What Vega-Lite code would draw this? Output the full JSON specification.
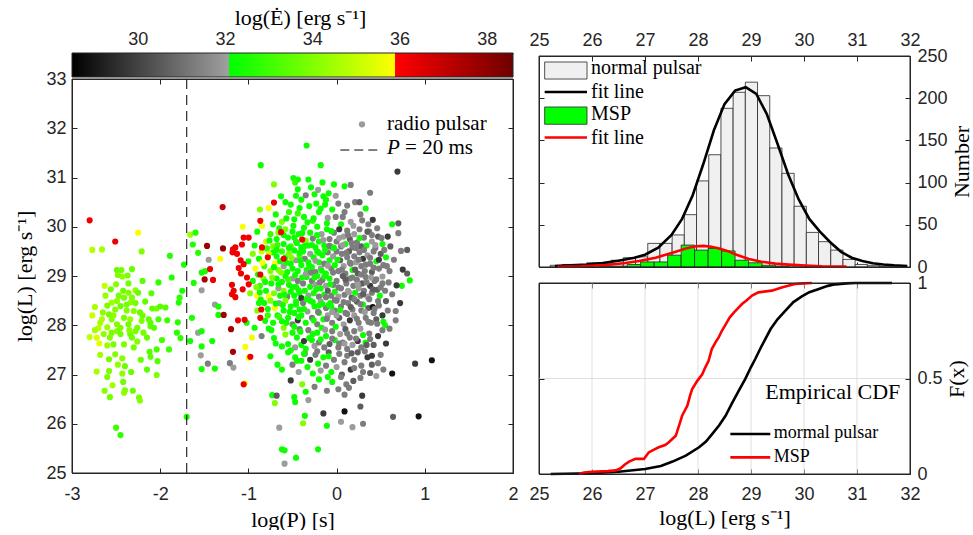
{
"$schema": "https://vega.github.io/schema/vega-lite/v6.json",
"background": "white",
"padding": {"left": 13, "top": 6, "right": 0, "bottom": 0},
"bounds": "flush",
"spacing": 26,
"config": {
 "view": {"stroke": null},
 "axis": {"labelFont": "Liberation Sans", "labelFontSize": 18, "labelColor": "#262626", "titleFont": "Liberation Serif", "titleFontSize": 22, "titleFontWeight": "normal", "titleColor": "#000000", "domainColor": "#262626", "tickColor": "#262626", "domainWidth": 1, "tickWidth": 1, "grid": false, "labelOverlap": false, "labelFlush": false, "labelBound": false}
},
"datasets": {
 "pts": [
{"p":-2.80,"l":30.13,"e":36.2},{"p":-2.25,"l":29.88,"e":35.8},{"p":-2.51,"l":29.70,"e":36.2},{"p":-2.77,"l":29.53,"e":34.8},{"p":-2.66,"l":29.54,"e":34.6},{"p":-2.21,"l":29.50,"e":34.0},{"p":-1.89,"l":29.41,"e":32.6},{"p":-1.73,"l":29.23,"e":32.5},{"p":-2.49,"l":29.12,"e":33.5},{"p":-2.44,"l":29.12,"e":33.8},{"p":-2.32,"l":29.14,"e":33.6},{"p":-2.43,"l":28.99,"e":34.2},{"p":-2.37,"l":29.01,"e":33.9},{"p":-2.48,"l":29.02,"e":34.0},{"p":-2.63,"l":28.80,"e":35.0},{"p":-2.56,"l":28.73,"e":33.8},{"p":-2.50,"l":28.83,"e":34.1},{"p":-2.42,"l":28.70,"e":33.7},{"p":-2.36,"l":28.66,"e":34.0},{"p":-2.28,"l":28.71,"e":34.3},{"p":-2.25,"l":28.66,"e":33.6},{"p":-2.32,"l":28.56,"e":34.0},{"p":-2.41,"l":28.56,"e":33.9},{"p":-2.49,"l":28.49,"e":34.2},{"p":-2.55,"l":28.46,"e":34.5},{"p":-2.60,"l":28.40,"e":33.9},{"p":-2.74,"l":28.37,"e":34.6},{"p":-2.65,"l":28.26,"e":34.2},{"p":-2.58,"l":28.22,"e":33.8},{"p":-2.51,"l":28.32,"e":34.0},{"p":-2.45,"l":28.39,"e":33.7},{"p":-2.38,"l":28.42,"e":33.8},{"p":-2.30,"l":28.29,"e":34.1},{"p":-2.23,"l":28.26,"e":33.7},{"p":-2.17,"l":28.48,"e":33.5},{"p":-2.09,"l":28.34,"e":33.6},{"p":-2.04,"l":28.34,"e":33.9},{"p":-1.94,"l":28.36,"e":33.4},{"p":-2.13,"l":28.12,"e":33.6},{"p":-2.21,"l":28.09,"e":34.0},{"p":-2.34,"l":28.12,"e":34.3},{"p":-2.41,"l":28.15,"e":33.9},{"p":-2.55,"l":28.12,"e":34.1},{"p":-2.66,"l":28.12,"e":34.7},{"p":-2.70,"l":27.94,"e":34.9},{"p":-2.60,"l":27.96,"e":34.4},{"p":-2.49,"l":28.02,"e":34.0},{"p":-2.36,"l":28.02,"e":33.8},{"p":-2.26,"l":27.95,"e":33.9},{"p":-2.11,"l":27.98,"e":33.5},{"p":-2.02,"l":28.12,"e":33.2},{"p":-1.79,"l":28.46,"e":32.6},{"p":-1.78,"l":28.56,"e":32.8},{"p":-1.80,"l":28.06,"e":32.7},{"p":-2.02,"l":28.87,"e":32.8},{"p":-1.87,"l":28.97,"e":32.6},{"p":-1.75,"l":28.70,"e":32.5},{"p":-2.33,"l":28.47,"e":34.1},{"p":-2.00,"l":28.38,"e":33.4},
{"p":-2.74,"l":27.90,"e":34.5},{"p":-2.80,"l":27.76,"e":35.0},{"p":-2.72,"l":27.75,"e":35.3},{"p":-2.64,"l":27.82,"e":34.2},{"p":-2.55,"l":27.85,"e":33.9},{"p":-2.49,"l":27.88,"e":34.1},{"p":-2.45,"l":27.82,"e":33.8},{"p":-2.41,"l":27.61,"e":34.0},{"p":-2.34,"l":27.82,"e":33.7},{"p":-2.28,"l":27.88,"e":33.9},{"p":-2.19,"l":27.85,"e":33.8},{"p":-2.11,"l":28.05,"e":33.5},{"p":-2.07,"l":27.95,"e":33.4},{"p":-2.26,"l":27.67,"e":34.0},{"p":-2.32,"l":27.75,"e":33.8},{"p":-2.53,"l":27.61,"e":33.9},{"p":-2.60,"l":27.59,"e":34.4},{"p":-2.69,"l":27.63,"e":35.5},{"p":-2.51,"l":27.41,"e":34.0},{"p":-2.58,"l":27.31,"e":33.8},{"p":-2.43,"l":27.33,"e":34.1},{"p":-2.40,"l":27.17,"e":33.7},{"p":-2.43,"l":27.02,"e":34.2},{"p":-2.33,"l":27.05,"e":33.6},{"p":-2.12,"l":27.46,"e":33.3},{"p":-2.11,"l":27.36,"e":33.5},{"p":-2.04,"l":27.51,"e":33.2},{"p":-2.03,"l":27.27,"e":33.4},{"p":-2.04,"l":26.99,"e":34.0},{"p":-1.90,"l":27.51,"e":33.0},{"p":-1.81,"l":27.85,"e":32.7},{"p":-1.77,"l":27.74,"e":32.8},{"p":-2.72,"l":27.06,"e":34.6},{"p":-2.58,"l":27.07,"e":33.9},{"p":-2.54,"l":26.78,"e":34.5},{"p":-2.63,"l":26.67,"e":34.1},{"p":-2.57,"l":26.54,"e":33.8},{"p":-2.40,"l":26.68,"e":33.9},{"p":-2.41,"l":26.63,"e":34.2},{"p":-2.31,"l":26.67,"e":33.7},{"p":-2.24,"l":26.53,"e":33.9},{"p":-2.23,"l":26.47,"e":34.1},{"p":-2.50,"l":25.92,"e":33.0},{"p":-2.45,"l":25.77,"e":32.8},{"p":-1.70,"l":26.14,"e":32.5},
{"p":-2.62,"l":28.60,"e":34.3},{"p":-2.47,"l":28.60,"e":33.9},{"p":-2.38,"l":28.30,"e":34.0},{"p":-2.28,"l":28.45,"e":33.8},{"p":-2.53,"l":28.20,"e":34.2},{"p":-2.45,"l":27.95,"e":33.9},{"p":-2.35,"l":27.90,"e":34.1},{"p":-2.20,"l":28.20,"e":33.7},{"p":-2.15,"l":27.75,"e":33.6},{"p":-2.68,"l":28.05,"e":34.6},{"p":-2.57,"l":27.75,"e":34.0},{"p":-2.30,"l":27.55,"e":33.9},{"p":-2.22,"l":27.30,"e":33.6},{"p":-2.48,"l":27.20,"e":34.3},{"p":-2.68,"l":27.40,"e":34.5},{"p":-2.77,"l":28.20,"e":35.1},{"p":-2.36,"l":28.85,"e":33.8},{"p":-2.20,"l":28.90,"e":33.5},{"p":-2.10,"l":28.65,"e":33.4},{"p":-1.98,"l":27.70,"e":33.1},{"p":-1.92,"l":28.10,"e":33.0},{"p":-2.15,"l":27.10,"e":33.5},{"p":-2.60,"l":26.95,"e":34.0},{"p":-2.42,"l":26.85,"e":33.8},
{"p":-1.66,"l":29.84,"e":34.5},{"p":-1.60,"l":29.88,"e":32.6},{"p":-1.63,"l":29.64,"e":32.5},{"p":-1.57,"l":29.47,"e":32.6},{"p":-1.53,"l":29.07,"e":32.4},{"p":-1.49,"l":29.10,"e":32.5},{"p":-1.62,"l":28.86,"e":32.5},{"p":-1.53,"l":28.71,"e":32.0},{"p":-1.38,"l":28.42,"e":32.0},{"p":-1.34,"l":28.38,"e":32.4},{"p":-1.64,"l":28.15,"e":32.5},{"p":-1.45,"l":29.33,"e":32.0},{"p":-1.66,"l":27.68,"e":32.4},{"p":-1.53,"l":27.57,"e":32.5},{"p":-1.41,"l":27.68,"e":32.4},{"p":-1.53,"l":27.11,"e":32.4},{"p":-1.38,"l":27.12,"e":32.4},{"p":-1.57,"l":27.85,"e":32.0},{"p":-1.54,"l":27.39,"e":32.0},{"p":-1.46,"l":27.22,"e":31.3},{"p":-1.21,"l":27.23,"e":31.3},{"p":-1.17,"l":27.14,"e":32.0},{"p":-1.34,"l":28.21,"e":32.4},{"p":-1.53,"l":27.88,"e":32.4},{"p":-1.02,"l":28.05,"e":32.3},{"p":-0.93,"l":27.95,"e":32.3},{"p":-0.88,"l":28.45,"e":32.3},
{"p":-0.34,"l":31.65,"e":32.3},{"p":-0.86,"l":31.25,"e":32.3},{"p":-0.18,"l":31.25,"e":32.3},{"p":0.69,"l":31.12,"e":29.8},{"p":-0.71,"l":30.86,"e":34.0},{"p":-0.49,"l":30.99,"e":32.3},{"p":-0.44,"l":30.96,"e":32.3},{"p":-0.47,"l":30.90,"e":32.9},{"p":-0.32,"l":30.96,"e":32.3},{"p":-0.44,"l":30.76,"e":32.3},{"p":-0.21,"l":30.75,"e":32.0},{"p":-0.03,"l":30.86,"e":32.3},{"p":0.09,"l":30.82,"e":32.3},{"p":0.16,"l":30.85,"e":31.3},{"p":0.38,"l":30.69,"e":31.3},{"p":-0.15,"l":30.62,"e":32.3},{"p":-0.09,"l":30.68,"e":32.3},{"p":-0.63,"l":30.62,"e":32.3},{"p":-0.46,"l":30.63,"e":32.3},{"p":-0.35,"l":30.64,"e":31.3},{"p":-0.25,"l":30.66,"e":32.3},{"p":-0.01,"l":30.63,"e":32.0},{"p":0.02,"l":30.47,"e":31.3},{"p":0.12,"l":30.43,"e":31.3},{"p":0.21,"l":30.50,"e":31.3},{"p":0.26,"l":30.50,"e":30.6},{"p":0.33,"l":30.37,"e":32.3},
{"p":-0.87,"l":30.35,"e":34.0},{"p":-0.77,"l":30.38,"e":35.8},{"p":-0.69,"l":30.25,"e":32.3},{"p":-0.62,"l":30.10,"e":34.0},{"p":-0.54,"l":30.30,"e":32.9},{"p":-0.48,"l":30.15,"e":32.3},{"p":-0.42,"l":30.38,"e":32.3},{"p":-0.37,"l":30.20,"e":32.3},{"p":-0.31,"l":30.42,"e":32.3},{"p":-0.27,"l":30.12,"e":32.9},{"p":-0.20,"l":30.30,"e":32.3},{"p":-0.13,"l":30.45,"e":32.3},{"p":-0.10,"l":30.18,"e":32.0},{"p":-0.05,"l":30.35,"e":32.3},{"p":0.07,"l":30.20,"e":31.3},{"p":0.16,"l":30.10,"e":32.0},{"p":0.41,"l":30.14,"e":29.8},{"p":0.36,"l":30.05,"e":31.3},{"p":0.63,"l":30.05,"e":32.3},{"p":0.70,"l":30.07,"e":30.6},{"p":0.27,"l":30.25,"e":31.3},{"p":0.05,"l":30.05,"e":32.3},
{"p":-0.90,"l":29.90,"e":32.3},{"p":-0.80,"l":29.70,"e":35.0},{"p":-0.75,"l":29.85,"e":32.9},{"p":-0.72,"l":29.60,"e":34.0},{"p":-0.68,"l":29.75,"e":32.3},{"p":-0.60,"l":29.65,"e":32.3},{"p":-0.58,"l":29.95,"e":34.0},{"p":-0.55,"l":29.78,"e":32.3},{"p":-0.52,"l":29.60,"e":32.9},{"p":-0.50,"l":29.90,"e":32.3},{"p":-0.46,"l":29.70,"e":32.0},{"p":-0.43,"l":29.85,"e":32.3},{"p":-0.40,"l":29.58,"e":32.3},{"p":-0.37,"l":29.98,"e":32.3},{"p":-0.35,"l":29.72,"e":34.0},{"p":-0.32,"l":29.62,"e":32.3},{"p":-0.30,"l":29.88,"e":32.3},{"p":-0.27,"l":29.76,"e":31.3},{"p":-0.24,"l":29.58,"e":32.3},{"p":-0.22,"l":30.00,"e":32.3},{"p":-0.20,"l":29.70,"e":32.3},{"p":-0.17,"l":29.85,"e":32.0},{"p":-0.14,"l":29.62,"e":32.3},{"p":-0.11,"l":29.95,"e":32.3},{"p":-0.08,"l":29.75,"e":31.3},{"p":-0.05,"l":29.58,"e":32.3},{"p":-0.03,"l":29.88,"e":31.3},
{"p":0.00,"l":29.70,"e":31.3},{"p":0.03,"l":29.95,"e":29.8},{"p":0.05,"l":29.60,"e":31.3},{"p":0.08,"l":29.80,"e":32.0},{"p":0.10,"l":29.65,"e":32.3},{"p":0.12,"l":29.92,"e":31.3},{"p":0.15,"l":29.75,"e":30.6},{"p":0.18,"l":29.58,"e":31.3},{"p":0.20,"l":29.85,"e":32.0},{"p":0.23,"l":29.68,"e":31.3},{"p":0.26,"l":29.95,"e":31.3},{"p":0.28,"l":29.60,"e":30.6},{"p":0.31,"l":29.78,"e":31.3},{"p":0.34,"l":29.62,"e":32.3},{"p":0.37,"l":29.90,"e":31.3},{"p":0.40,"l":29.70,"e":32.0},{"p":0.44,"l":29.57,"e":31.3},{"p":0.47,"l":29.80,"e":30.6},{"p":0.52,"l":29.65,"e":32.3},{"p":0.58,"l":29.80,"e":29.8},{"p":0.73,"l":29.51,"e":31.3},{"p":0.80,"l":29.53,"e":30.6},
{"p":-1.00,"l":29.30,"e":32.3},{"p":-0.95,"l":29.45,"e":34.0},{"p":-0.92,"l":29.15,"e":35.8},{"p":-0.88,"l":29.35,"e":32.3},{"p":-0.85,"l":29.50,"e":35.0},{"p":-0.82,"l":29.20,"e":32.9},{"p":-0.75,"l":29.10,"e":34.0},{"p":-0.72,"l":29.48,"e":32.3},{"p":-0.70,"l":29.25,"e":35.8},{"p":-0.68,"l":29.40,"e":32.3},{"p":-0.66,"l":29.12,"e":34.0},{"p":-0.64,"l":29.30,"e":32.3},{"p":-0.62,"l":29.50,"e":32.9},{"p":-0.60,"l":29.20,"e":32.0},{"p":-0.58,"l":29.38,"e":32.3},{"p":-0.56,"l":29.08,"e":32.3},{"p":-0.54,"l":29.45,"e":34.0},{"p":-0.52,"l":29.25,"e":32.3},{"p":-0.50,"l":29.15,"e":32.3},{"p":-0.48,"l":29.52,"e":32.3},{"p":-0.46,"l":29.32,"e":32.0},{"p":-0.44,"l":29.10,"e":32.3},{"p":-0.42,"l":29.42,"e":32.9},{"p":-0.40,"l":29.22,"e":32.3},
{"p":-0.38,"l":29.50,"e":32.3},{"p":-0.36,"l":29.35,"e":31.3},{"p":-0.34,"l":29.12,"e":32.3},{"p":-0.32,"l":29.28,"e":32.3},{"p":-0.30,"l":29.45,"e":32.0},{"p":-0.28,"l":29.18,"e":32.3},{"p":-0.26,"l":29.38,"e":32.3},{"p":-0.24,"l":29.08,"e":31.3},{"p":-0.22,"l":29.50,"e":32.3},{"p":-0.20,"l":29.28,"e":32.3},{"p":-0.18,"l":29.15,"e":32.0},{"p":-0.16,"l":29.42,"e":32.3},{"p":-0.14,"l":29.25,"e":31.3},{"p":-0.12,"l":29.05,"e":32.3},{"p":-0.10,"l":29.48,"e":31.3},{"p":-0.08,"l":29.32,"e":32.3},{"p":-0.06,"l":29.15,"e":31.3},{"p":-0.04,"l":29.40,"e":32.0},{"p":-0.02,"l":29.22,"e":32.3},
{"p":0.00,"l":29.50,"e":31.3},{"p":0.02,"l":29.10,"e":31.3},{"p":0.04,"l":29.32,"e":30.6},{"p":0.06,"l":29.45,"e":31.3},{"p":0.08,"l":29.20,"e":32.0},{"p":0.10,"l":29.05,"e":31.3},{"p":0.12,"l":29.38,"e":31.3},{"p":0.14,"l":29.50,"e":30.6},{"p":0.16,"l":29.25,"e":31.3},{"p":0.18,"l":29.12,"e":32.3},{"p":0.20,"l":29.40,"e":31.3},{"p":0.22,"l":29.28,"e":32.0},{"p":0.24,"l":29.05,"e":30.6},{"p":0.26,"l":29.48,"e":31.3},{"p":0.28,"l":29.20,"e":31.3},{"p":0.30,"l":29.35,"e":29.8},{"p":0.32,"l":29.10,"e":31.3},{"p":0.35,"l":29.42,"e":32.0},{"p":0.38,"l":29.25,"e":31.3},{"p":0.40,"l":29.08,"e":30.6},{"p":0.42,"l":29.50,"e":31.3},{"p":0.45,"l":29.30,"e":32.3},{"p":0.48,"l":29.15,"e":31.3},{"p":0.50,"l":29.45,"e":30.6},{"p":0.53,"l":29.22,"e":31.3},{"p":0.56,"l":29.38,"e":32.3},{"p":0.60,"l":29.10,"e":31.3},{"p":0.75,"l":29.13,"e":29.8},{"p":0.80,"l":29.05,"e":30.6},
{"p":-0.98,"l":28.65,"e":34.0},{"p":-0.95,"l":28.90,"e":32.3},{"p":-0.90,"l":28.60,"e":35.8},{"p":-0.87,"l":28.80,"e":32.9},{"p":-0.83,"l":28.95,"e":34.0},{"p":-0.80,"l":28.70,"e":32.3},{"p":-0.77,"l":28.58,"e":35.8},{"p":-0.74,"l":28.85,"e":32.3},{"p":-0.71,"l":28.65,"e":34.0},{"p":-0.68,"l":28.95,"e":32.3},{"p":-0.66,"l":28.75,"e":32.0},{"p":-0.64,"l":28.60,"e":32.3},{"p":-0.62,"l":28.88,"e":32.3},{"p":-0.60,"l":28.70,"e":34.0},{"p":-0.58,"l":29.00,"e":32.3},{"p":-0.56,"l":28.58,"e":31.3},{"p":-0.54,"l":28.82,"e":32.3},{"p":-0.52,"l":28.68,"e":32.3},{"p":-0.50,"l":28.95,"e":32.0},{"p":-0.48,"l":28.60,"e":32.3},{"p":-0.46,"l":28.78,"e":32.3},{"p":-0.44,"l":28.90,"e":31.3},{"p":-0.42,"l":28.65,"e":32.3},{"p":-0.40,"l":28.55,"e":29.8},
{"p":-0.38,"l":28.85,"e":31.3},{"p":-0.36,"l":28.70,"e":32.3},{"p":-0.34,"l":28.98,"e":32.3},{"p":-0.32,"l":28.60,"e":32.0},{"p":-0.30,"l":28.78,"e":32.3},{"p":-0.28,"l":28.90,"e":31.3},{"p":-0.26,"l":28.65,"e":32.3},{"p":-0.24,"l":28.82,"e":32.0},{"p":-0.22,"l":29.00,"e":32.3},{"p":-0.20,"l":28.58,"e":31.3},{"p":-0.18,"l":28.75,"e":32.3},{"p":-0.16,"l":28.92,"e":31.3},{"p":-0.14,"l":28.62,"e":32.3},{"p":-0.12,"l":28.80,"e":32.0},{"p":-0.10,"l":28.70,"e":30.6},{"p":-0.08,"l":28.95,"e":32.3},{"p":-0.06,"l":28.60,"e":31.3},{"p":-0.04,"l":28.82,"e":31.3},{"p":-0.02,"l":28.68,"e":32.3},
{"p":0.00,"l":28.90,"e":31.3},{"p":0.02,"l":28.58,"e":32.0},{"p":0.05,"l":28.75,"e":31.3},{"p":0.07,"l":29.00,"e":30.6},{"p":0.09,"l":28.62,"e":31.3},{"p":0.11,"l":28.85,"e":31.3},{"p":0.13,"l":28.70,"e":32.0},{"p":0.15,"l":28.95,"e":31.3},{"p":0.17,"l":28.56,"e":30.6},{"p":0.19,"l":28.80,"e":31.3},{"p":0.21,"l":28.66,"e":32.3},{"p":0.23,"l":28.92,"e":31.3},{"p":0.25,"l":28.75,"e":32.0},{"p":0.27,"l":28.60,"e":31.3},{"p":0.29,"l":28.85,"e":30.6},{"p":0.31,"l":28.70,"e":31.3},{"p":0.33,"l":28.98,"e":31.3},{"p":0.35,"l":28.58,"e":32.0},{"p":0.38,"l":28.80,"e":29.8},{"p":0.40,"l":28.66,"e":31.3},{"p":0.43,"l":28.90,"e":31.3},{"p":0.46,"l":28.72,"e":30.6},{"p":0.49,"l":28.60,"e":32.3},{"p":0.52,"l":28.85,"e":31.3},{"p":0.55,"l":28.70,"e":31.3},{"p":0.74,"l":28.80,"e":32.3},{"p":0.68,"l":28.81,"e":29.8},{"p":0.83,"l":28.91,"e":32.3},
{"p":-0.90,"l":28.30,"e":34.0},{"p":-0.82,"l":28.45,"e":32.3},{"p":-0.78,"l":28.20,"e":32.9},{"p":-0.75,"l":28.50,"e":34.0},{"p":-0.72,"l":28.05,"e":32.3},{"p":-0.70,"l":28.35,"e":35.8},{"p":-0.67,"l":28.20,"e":32.3},{"p":-0.65,"l":28.45,"e":32.0},{"p":-0.62,"l":28.08,"e":32.3},{"p":-0.60,"l":28.30,"e":32.3},{"p":-0.58,"l":28.50,"e":34.0},{"p":-0.55,"l":28.15,"e":32.3},{"p":-0.52,"l":28.38,"e":32.3},{"p":-0.50,"l":28.02,"e":31.3},{"p":-0.48,"l":28.25,"e":32.3},{"p":-0.46,"l":28.48,"e":32.3},{"p":-0.44,"l":28.10,"e":29.8},{"p":-0.42,"l":28.32,"e":32.3},{"p":-0.40,"l":28.20,"e":32.3},{"p":-0.38,"l":28.45,"e":31.3},{"p":-0.35,"l":28.05,"e":32.3},{"p":-0.33,"l":28.28,"e":32.0},{"p":-0.30,"l":28.50,"e":32.3},{"p":-0.28,"l":28.15,"e":31.3},{"p":-0.25,"l":28.38,"e":32.3},{"p":-0.22,"l":28.02,"e":31.3},{"p":-0.20,"l":28.25,"e":32.3},{"p":-0.18,"l":28.48,"e":32.0},{"p":-0.15,"l":28.12,"e":32.3},{"p":-0.12,"l":28.35,"e":31.3},{"p":-0.10,"l":28.20,"e":32.0},{"p":-0.07,"l":28.45,"e":32.3},{"p":-0.05,"l":28.05,"e":31.3},{"p":-0.02,"l":28.30,"e":31.3},
{"p":0.00,"l":28.50,"e":31.3},{"p":0.03,"l":28.15,"e":30.6},{"p":0.05,"l":28.38,"e":31.3},{"p":0.08,"l":28.02,"e":32.0},{"p":0.10,"l":28.25,"e":31.3},{"p":0.13,"l":28.45,"e":31.3},{"p":0.15,"l":28.10,"e":29.8},{"p":0.18,"l":28.32,"e":31.3},{"p":0.20,"l":28.20,"e":32.0},{"p":0.23,"l":28.48,"e":30.6},{"p":0.25,"l":28.05,"e":31.3},{"p":0.28,"l":28.30,"e":31.3},{"p":0.30,"l":28.42,"e":32.3},{"p":0.33,"l":28.15,"e":31.3},{"p":0.36,"l":28.35,"e":30.6},{"p":0.39,"l":28.05,"e":31.3},{"p":0.41,"l":28.37,"e":28.9},{"p":0.42,"l":28.25,"e":31.3},{"p":0.45,"l":28.12,"e":30.6},{"p":0.48,"l":28.40,"e":31.3},{"p":0.52,"l":28.20,"e":29.8},{"p":0.53,"l":28.07,"e":32.3},{"p":0.58,"l":28.30,"e":31.3},{"p":0.67,"l":28.10,"e":31.3},{"p":0.67,"l":28.29,"e":31.3},
{"p":-0.85,"l":27.78,"e":31.3},{"p":-0.74,"l":27.90,"e":32.3},{"p":-0.71,"l":27.74,"e":32.3},{"p":-0.60,"l":27.95,"e":34.0},{"p":-0.55,"l":27.62,"e":32.3},{"p":-0.50,"l":27.85,"e":32.3},{"p":-0.47,"l":27.55,"e":32.0},{"p":-0.45,"l":27.75,"e":32.3},{"p":-0.42,"l":27.92,"e":31.3},{"p":-0.40,"l":27.60,"e":32.3},{"p":-0.37,"l":27.68,"e":29.8},{"p":-0.35,"l":27.52,"e":32.3},{"p":-0.32,"l":27.90,"e":31.3},{"p":-0.28,"l":27.70,"e":32.3},{"p":-0.25,"l":27.58,"e":32.0},{"p":-0.22,"l":27.85,"e":32.3},{"p":-0.20,"l":27.65,"e":31.3},{"p":-0.17,"l":27.95,"e":32.3},{"p":-0.14,"l":27.55,"e":31.3},{"p":-0.12,"l":27.78,"e":32.3},{"p":-0.08,"l":27.62,"e":30.6},{"p":-0.05,"l":27.88,"e":31.3},{"p":-0.02,"l":27.70,"e":32.3},{"p":0.02,"l":27.55,"e":31.3},{"p":0.04,"l":27.82,"e":32.0},{"p":0.07,"l":27.65,"e":31.3},{"p":0.10,"l":27.92,"e":30.6},{"p":0.12,"l":27.52,"e":31.3},{"p":0.15,"l":27.75,"e":31.3},{"p":0.18,"l":27.60,"e":32.0},{"p":0.20,"l":27.88,"e":31.3},{"p":0.24,"l":27.68,"e":29.8},{"p":0.28,"l":27.55,"e":31.3},{"p":0.30,"l":27.80,"e":32.3},{"p":0.33,"l":27.65,"e":32.3},{"p":0.34,"l":27.60,"e":30.6},{"p":0.38,"l":27.72,"e":31.3},{"p":0.40,"l":27.38,"e":29.8},{"p":0.47,"l":27.78,"e":29.8},{"p":0.52,"l":27.90,"e":31.3},{"p":0.55,"l":28.00,"e":32.3},
{"p":-0.75,"l":27.37,"e":32.3},{"p":-0.67,"l":27.20,"e":32.3},{"p":-0.62,"l":27.10,"e":32.3},{"p":-0.55,"l":27.45,"e":32.3},{"p":-0.50,"l":27.20,"e":31.3},{"p":-0.47,"l":27.35,"e":32.3},{"p":-0.43,"l":27.05,"e":32.0},{"p":-0.40,"l":27.28,"e":32.3},{"p":-0.36,"l":27.42,"e":31.3},{"p":-0.33,"l":27.15,"e":32.3},{"p":-0.30,"l":27.30,"e":29.8},{"p":-0.27,"l":27.02,"e":32.3},{"p":-0.24,"l":27.40,"e":31.3},{"p":-0.21,"l":27.22,"e":32.3},{"p":-0.18,"l":27.08,"e":32.0},{"p":-0.15,"l":27.35,"e":32.3},{"p":-0.12,"l":27.18,"e":31.3},{"p":-0.09,"l":27.45,"e":30.6},{"p":-0.06,"l":27.05,"e":32.3},{"p":-0.03,"l":27.30,"e":31.3},{"p":0.00,"l":27.15,"e":32.0},{"p":0.03,"l":27.42,"e":31.3},{"p":0.06,"l":27.00,"e":30.6},{"p":0.09,"l":27.25,"e":31.3},{"p":0.12,"l":27.38,"e":31.3},{"p":0.16,"l":27.10,"e":29.8},{"p":0.20,"l":27.30,"e":31.3},{"p":0.24,"l":27.45,"e":30.6},{"p":0.28,"l":27.18,"e":31.3},{"p":0.30,"l":27.05,"e":31.3},{"p":0.35,"l":27.35,"e":29.8},{"p":0.40,"l":27.20,"e":30.6},{"p":0.45,"l":26.97,"e":32.0},{"p":0.50,"l":27.40,"e":31.3},{"p":0.53,"l":27.10,"e":31.3},{"p":0.63,"l":27.02,"e":28.9},{"p":0.89,"l":27.22,"e":29.8},{"p":1.08,"l":27.29,"e":28.9},
{"p":-0.73,"l":26.58,"e":32.3},{"p":-0.70,"l":26.42,"e":34.0},{"p":-0.68,"l":26.57,"e":30.6},{"p":-0.52,"l":26.88,"e":29.8},{"p":-0.48,"l":26.54,"e":32.3},{"p":-0.47,"l":26.44,"e":32.3},{"p":-0.39,"l":26.80,"e":34.0},{"p":-0.32,"l":26.48,"e":32.0},{"p":-0.25,"l":26.75,"e":31.3},{"p":-0.20,"l":26.90,"e":32.3},{"p":-0.11,"l":26.67,"e":31.3},{"p":-0.05,"l":26.85,"e":32.3},{"p":0.02,"l":26.70,"e":31.3},{"p":0.09,"l":26.59,"e":31.3},{"p":0.19,"l":26.87,"e":30.6},{"p":0.11,"l":26.80,"e":31.3},{"p":0.29,"l":26.57,"e":29.8},{"p":0.27,"l":26.35,"e":30.6},{"p":-0.10,"l":26.95,"e":32.3},{"p":0.05,"l":26.95,"e":31.3},{"p":-0.35,"l":26.65,"e":32.3},
{"p":-0.15,"l":26.21,"e":29.8},{"p":-0.36,"l":26.16,"e":32.3},{"p":-0.38,"l":26.01,"e":34.0},{"p":-0.11,"l":25.96,"e":32.3},{"p":-0.65,"l":25.92,"e":32.0},{"p":-0.62,"l":25.48,"e":32.3},{"p":-0.59,"l":25.46,"e":32.3},{"p":-0.46,"l":25.31,"e":32.3},{"p":-0.59,"l":25.19,"e":32.0},{"p":-0.21,"l":25.48,"e":32.3},{"p":0.05,"l":26.04,"e":32.0},{"p":0.09,"l":26.25,"e":28.9},{"p":0.18,"l":25.93,"e":32.0},{"p":0.30,"l":26.00,"e":31.3},{"p":0.64,"l":26.14,"e":30.6},{"p":0.93,"l":26.15,"e":28.9},
{"p":-0.93,"l":29.62,"e":32.3},{"p":-0.91,"l":28.77,"e":34.0},{"p":-0.89,"l":29.03,"e":32.3},{"p":-0.86,"l":28.52,"e":32.3},{"p":-0.84,"l":29.27,"e":35.8},{"p":-0.81,"l":28.88,"e":32.3},{"p":-0.79,"l":29.56,"e":32.9},{"p":-0.78,"l":28.33,"e":32.3},{"p":-0.76,"l":29.72,"e":32.3},{"p":-0.73,"l":28.97,"e":34.0},{"p":-0.71,"l":29.18,"e":32.3},{"p":-0.69,"l":28.44,"e":32.3},{"p":-0.67,"l":29.63,"e":32.9},{"p":-0.66,"l":28.83,"e":32.3},{"p":-0.65,"l":29.97,"e":32.3},{"p":-0.63,"l":29.07,"e":34.0},{"p":-0.61,"l":28.41,"e":32.3},{"p":-0.60,"l":29.83,"e":32.3},{"p":-0.59,"l":28.62,"e":32.3},{"p":-0.57,"l":29.27,"e":32.3},{"p":-0.57,"l":30.17,"e":32.3},{"p":-0.55,"l":28.93,"e":32.9},{"p":-0.54,"l":29.57,"e":32.3},{"p":-0.53,"l":28.27,"e":32.3},{"p":-0.51,"l":29.37,"e":34.0},{"p":-0.50,"l":28.77,"e":32.3},{"p":-0.49,"l":30.02,"e":32.3},{"p":-0.47,"l":29.02,"e":32.3},{"p":-0.46,"l":28.42,"e":32.3},{"p":-0.45,"l":29.67,"e":32.3},{"p":-0.44,"l":30.27,"e":32.9},{"p":-0.43,"l":28.71,"e":32.3},{"p":-0.41,"l":29.31,"e":32.3},{"p":-0.41,"l":27.87,"e":32.3},{"p":-0.39,"l":28.97,"e":32.3},{"p":-0.39,"l":29.87,"e":32.3},{"p":-0.37,"l":28.33,"e":32.3},{"p":-0.36,"l":29.61,"e":32.3},{"p":-0.35,"l":29.04,"e":32.0},{"p":-0.34,"l":28.53,"e":32.3},{"p":-0.33,"l":30.09,"e":32.3},{"p":-0.31,"l":29.21,"e":32.3},{"p":-0.31,"l":27.74,"e":32.3},{"p":-0.62,"l":27.57,"e":32.3},{"p":-0.58,"l":27.81,"e":34.0},{"p":-0.52,"l":27.49,"e":32.3},{"p":-0.48,"l":27.97,"e":32.3},{"p":-0.45,"l":27.28,"e":32.3},{"p":-0.69,"l":27.63,"e":32.3},{"p":-0.65,"l":28.17,"e":32.9},{"p":-0.57,"l":28.05,"e":32.3},{"p":-0.43,"l":28.17,"e":32.3},{"p":-0.37,"l":27.42,"e":32.3},{"p":-0.81,"l":28.09,"e":32.3},{"p":-0.77,"l":27.93,"e":32.3},{"p":-0.87,"l":28.67,"e":32.3},{"p":-0.72,"l":30.05,"e":32.3},{"p":-0.52,"l":30.45,"e":32.3},{"p":-0.40,"l":30.55,"e":32.3},{"p":-0.58,"l":30.50,"e":32.3},{"p":-0.66,"l":29.88,"e":34.0},{"p":-0.77,"l":29.45,"e":35.0},{"p":-0.68,"l":29.53,"e":32.3},{"p":-0.48,"l":29.78,"e":32.3},{"p":-0.42,"l":29.47,"e":32.3},
{"p":-0.29,"l":29.07,"e":31.3},{"p":-0.28,"l":29.63,"e":32.3},{"p":-0.27,"l":28.47,"e":32.3},{"p":-0.26,"l":30.17,"e":32.3},{"p":-0.25,"l":28.97,"e":32.3},{"p":-0.24,"l":29.31,"e":32.0},{"p":-0.23,"l":28.73,"e":32.3},{"p":-0.22,"l":29.83,"e":32.3},{"p":-0.21,"l":28.27,"e":31.3},{"p":-0.20,"l":29.47,"e":32.3},{"p":-0.19,"l":28.87,"e":31.3},{"p":-0.18,"l":30.37,"e":32.3},{"p":-0.17,"l":29.11,"e":32.3},{"p":-0.16,"l":28.43,"e":32.3},{"p":-0.15,"l":29.73,"e":32.0},{"p":-0.14,"l":28.99,"e":32.3},{"p":-0.13,"l":29.53,"e":32.3},{"p":-0.12,"l":28.57,"e":31.3},{"p":-0.11,"l":30.07,"e":32.3},{"p":-0.10,"l":29.21,"e":32.0},{"p":-0.09,"l":28.41,"e":32.3},{"p":-0.08,"l":29.61,"e":31.3},{"p":-0.07,"l":28.83,"e":32.3},{"p":-0.06,"l":29.91,"e":32.3},{"p":-0.05,"l":28.27,"e":32.0},{"p":-0.04,"l":29.07,"e":31.3},{"p":-0.03,"l":29.57,"e":32.3},{"p":-0.02,"l":28.51,"e":31.3},{"p":-0.01,"l":30.20,"e":31.3},{"p":0.01,"l":29.33,"e":32.3},{"p":0.02,"l":28.77,"e":31.3},{"p":0.03,"l":29.77,"e":32.0},{"p":0.04,"l":28.31,"e":32.3},{"p":-0.27,"l":27.82,"e":32.3},{"p":-0.22,"l":27.47,"e":31.3},{"p":-0.18,"l":27.71,"e":32.3},{"p":-0.13,"l":27.91,"e":32.0},{"p":-0.09,"l":27.37,"e":32.3},{"p":-0.05,"l":27.73,"e":31.3},{"p":-0.01,"l":27.97,"e":32.3},{"p":0.03,"l":27.63,"e":31.3},{"p":-0.26,"l":28.10,"e":32.3},{"p":-0.20,"l":28.40,"e":32.3},{"p":-0.11,"l":28.13,"e":31.3},{"p":-0.06,"l":28.38,"e":32.3},{"p":0.00,"l":28.20,"e":32.0},{"p":-0.16,"l":30.90,"e":32.3},{"p":-0.29,"l":30.80,"e":32.3},{"p":-0.12,"l":30.55,"e":32.3},{"p":-0.23,"l":30.47,"e":32.3},
{"p":0.06,"l":29.13,"e":31.3},{"p":0.07,"l":29.63,"e":32.0},{"p":0.08,"l":28.47,"e":31.3},{"p":0.09,"l":30.30,"e":31.3},{"p":0.10,"l":28.93,"e":30.6},{"p":0.11,"l":29.47,"e":31.3},{"p":0.12,"l":28.23,"e":31.3},{"p":0.13,"l":29.83,"e":31.3},{"p":0.14,"l":28.67,"e":32.0},{"p":0.15,"l":29.27,"e":31.3},{"p":0.16,"l":28.37,"e":30.6},{"p":0.17,"l":29.67,"e":31.3},{"p":0.18,"l":28.97,"e":31.3},{"p":0.19,"l":30.02,"e":32.0},{"p":0.20,"l":28.53,"e":31.3},{"p":0.21,"l":29.13,"e":30.6},{"p":0.22,"l":29.57,"e":31.3},{"p":0.23,"l":28.13,"e":31.3},{"p":0.24,"l":28.83,"e":32.0},{"p":0.25,"l":29.33,"e":31.3},{"p":0.26,"l":29.77,"e":32.3},{"p":0.27,"l":28.43,"e":31.3},{"p":0.28,"l":29.03,"e":31.3},{"p":0.29,"l":30.13,"e":31.3},{"p":0.30,"l":28.63,"e":30.6},{"p":0.31,"l":29.53,"e":31.3},{"p":0.32,"l":28.27,"e":32.0},{"p":0.33,"l":29.23,"e":31.3},{"p":0.34,"l":28.87,"e":31.3},{"p":0.35,"l":29.90,"e":30.6},{"p":0.36,"l":28.07,"e":31.3},{"p":0.37,"l":28.53,"e":31.3},{"p":0.38,"l":29.37,"e":31.3},{"p":0.39,"l":28.97,"e":32.0},{"p":0.40,"l":29.83,"e":31.3},{"p":0.41,"l":28.73,"e":30.6},{"p":0.42,"l":29.17,"e":31.3},{"p":0.43,"l":28.33,"e":31.3},{"p":0.44,"l":29.63,"e":32.0},{"p":0.45,"l":28.93,"e":31.3},{"p":0.46,"l":29.97,"e":31.3},{"p":0.47,"l":28.49,"e":31.3},{"p":0.48,"l":29.33,"e":29.8},{"p":0.50,"l":28.77,"e":31.3},{"p":0.51,"l":29.77,"e":31.3},{"p":0.52,"l":28.99,"e":32.0},{"p":0.54,"l":29.53,"e":31.3},{"p":0.56,"l":28.49,"e":30.6},{"p":0.57,"l":29.20,"e":31.3},{"p":0.59,"l":28.87,"e":31.3},{"p":0.61,"l":29.60,"e":30.6},{"p":0.63,"l":28.63,"e":31.3},{"p":0.65,"l":29.33,"e":31.3},{"p":0.12,"l":27.83,"e":31.3},{"p":0.17,"l":27.43,"e":30.6},{"p":0.22,"l":27.73,"e":31.3},{"p":0.27,"l":27.93,"e":32.0},{"p":0.32,"l":27.47,"e":31.3},{"p":0.37,"l":27.83,"e":31.3},{"p":0.42,"l":27.60,"e":30.6},{"p":0.46,"l":28.03,"e":31.3},{"p":0.09,"l":27.63,"e":32.0},{"p":0.20,"l":27.13,"e":31.3},{"p":0.27,"l":26.93,"e":31.3},{"p":0.38,"l":27.03,"e":30.6},{"p":0.14,"l":26.73,"e":31.3},{"p":0.47,"l":27.23,"e":31.3},{"p":0.56,"l":27.63,"e":29.8},{"p":0.60,"l":27.93,"e":31.3},{"p":0.72,"l":28.45,"e":29.8},{"p":0.70,"l":29.87,"e":31.3},
{"p":-1.065,"l":30.00,"e":35.8},{"p":-0.846,"l":30.02,"e":35.8},{"p":-1.035,"l":27.56,"e":35.8},{"p":-0.997,"l":27.34,"e":35.7},{"p":-0.96,"l":27.75,"e":35.6},{"p":-1.04,"l":26.82,"e":35.8},{"p":-1.319,"l":29.35,"e":35.8},
{"p":-1.469,"l":29.61,"e":37.8},{"p":-1.292,"l":30.40,"e":37.0},{"p":-1.288,"l":29.56,"e":37.9},{"p":-1.435,"l":29.14,"e":36.2},{"p":-1.496,"l":28.93,"e":37.5},{"p":-1.401,"l":28.92,"e":36.2},{"p":-1.28,"l":28.21,"e":37.6},{"p":-1.175,"l":29.54,"e":36.2},{"p":-1.148,"l":29.58,"e":36.3},{"p":-1.129,"l":29.45,"e":36.1},{"p":-1.18,"l":29.48,"e":36.2},{"p":-1.054,"l":29.78,"e":36.2},{"p":-0.997,"l":29.78,"e":36.1},{"p":-1.073,"l":29.64,"e":36.2},{"p":-1.088,"l":29.32,"e":36.3},{"p":-1.11,"l":29.16,"e":36.1},{"p":-1.084,"l":29.05,"e":36.2},{"p":-1.054,"l":29.24,"e":36.2},{"p":-1.186,"l":28.82,"e":36.2},{"p":-1.167,"l":28.70,"e":36.3},{"p":-1.186,"l":28.63,"e":36.1},{"p":-1.148,"l":28.57,"e":36.2},{"p":-1.065,"l":28.73,"e":36.2},{"p":-0.997,"l":28.83,"e":36.1},{"p":-1.016,"l":28.97,"e":36.2},{"p":-0.865,"l":29.03,"e":36.2},{"p":-1.043,"l":28.11,"e":36.3},{"p":-0.865,"l":28.15,"e":36.1},{"p":-0.854,"l":28.32,"e":36.2},{"p":-0.865,"l":30.12,"e":36.2},{"p":-0.71,"l":30.49,"e":36.2},{"p":-0.63,"l":29.89,"e":36.1},{"p":-0.846,"l":29.58,"e":36.2},{"p":-0.78,"l":29.38,"e":36.2},{"p":-1.118,"l":28.10,"e":36.2},{"p":-1.197,"l":27.92,"e":37.6},{"p":-1.175,"l":27.46,"e":37.5},{"p":-0.978,"l":27.36,"e":36.2},{"p":-1.054,"l":26.80,"e":36.4},{"p":-0.39,"l":29.74,"e":36.2},{"p":-0.60,"l":29.35,"e":36.2}
 ],
 "hn": [
{"a":25.210,"b":25.440,"n":2},{"a":25.440,"b":25.670,"n":3},{"a":25.670,"b":25.901,"n":1},{"a":25.901,"b":26.131,"n":5},{"a":26.131,"b":26.361,"n":4},{"a":26.361,"b":26.591,"n":8},{"a":26.591,"b":26.821,"n":11},{"a":26.821,"b":27.052,"n":12},{"a":27.052,"b":27.282,"n":28},{"a":27.282,"b":27.512,"n":28},{"a":27.512,"b":27.742,"n":38},{"a":27.742,"b":27.972,"n":62},{"a":27.972,"b":28.203,"n":102},{"a":28.203,"b":28.433,"n":133},{"a":28.433,"b":28.663,"n":188},{"a":28.663,"b":28.893,"n":207},{"a":28.893,"b":29.123,"n":219},{"a":29.123,"b":29.354,"n":203},{"a":29.354,"b":29.584,"n":141},{"a":29.584,"b":29.814,"n":111},{"a":29.814,"b":30.044,"n":72},{"a":30.044,"b":30.274,"n":41},{"a":30.274,"b":30.505,"n":30},{"a":30.505,"b":30.735,"n":20},{"a":30.735,"b":30.965,"n":9},{"a":30.965,"b":31.195,"n":3},{"a":31.195,"b":31.426,"n":2},{"a":31.426,"b":31.656,"n":1},{"a":31.656,"b":31.886,"n":1}
 ],
 "hm": [
{"a":25.645,"b":25.900,"n":1},{"a":26.154,"b":26.409,"n":1},{"a":26.409,"b":26.664,"n":1},{"a":26.664,"b":26.918,"n":3},{"a":26.918,"b":27.173,"n":6},{"a":27.173,"b":27.427,"n":6},{"a":27.427,"b":27.682,"n":14},{"a":27.682,"b":27.936,"n":26},{"a":27.936,"b":28.191,"n":20},{"a":28.191,"b":28.445,"n":22},{"a":28.445,"b":28.700,"n":19},{"a":28.700,"b":28.954,"n":8},{"a":28.954,"b":29.209,"n":5},{"a":29.209,"b":29.464,"n":2},{"a":29.464,"b":29.718,"n":1}
 ],
 "fit": [
{"x":25.3,"n":1.2,"s":"n"},{"x":25.6,"n":2,"s":"n"},{"x":25.9,"n":3,"s":"n"},{"x":26.2,"n":4.8,"s":"n"},{"x":26.5,"n":7.3,"s":"n"},{"x":26.8,"n":11,"s":"n"},{"x":27.0,"n":14.5,"s":"n"},{"x":27.25,"n":23,"s":"n"},{"x":27.5,"n":38,"s":"n"},{"x":27.7,"n":57,"s":"n"},{"x":27.9,"n":85,"s":"n"},{"x":28.1,"n":122,"s":"n"},{"x":28.3,"n":162,"s":"n"},{"x":28.5,"n":193,"s":"n"},{"x":28.7,"n":209,"s":"n"},{"x":28.9,"n":213,"s":"n"},{"x":29.1,"n":205,"s":"n"},{"x":29.3,"n":181,"s":"n"},{"x":29.5,"n":146,"s":"n"},{"x":29.7,"n":110,"s":"n"},{"x":29.9,"n":80,"s":"n"},{"x":30.1,"n":57,"s":"n"},{"x":30.3,"n":42,"s":"n"},{"x":30.5,"n":29,"s":"n"},{"x":30.7,"n":18,"s":"n"},{"x":30.9,"n":11,"s":"n"},{"x":31.1,"n":7,"s":"n"},{"x":31.3,"n":4.5,"s":"n"},{"x":31.5,"n":3,"s":"n"},{"x":31.7,"n":2,"s":"n"},{"x":31.95,"n":1.2,"s":"n"},
{"x":25.35,"n":0.3,"s":"m"},{"x":25.8,"n":0.8,"s":"m"},{"x":26.26,"n":2.4,"s":"m"},{"x":26.6,"n":4.5,"s":"m"},{"x":26.89,"n":7,"s":"m"},{"x":27.2,"n":11,"s":"m"},{"x":27.52,"n":17,"s":"m"},{"x":27.77,"n":22,"s":"m"},{"x":27.96,"n":24.5,"s":"m"},{"x":28.1,"n":25,"s":"m"},{"x":28.25,"n":24,"s":"m"},{"x":28.4,"n":22,"s":"m"},{"x":28.58,"n":18.5,"s":"m"},{"x":28.7,"n":15,"s":"m"},{"x":28.96,"n":9.5,"s":"m"},{"x":29.2,"n":6.3,"s":"m"},{"x":29.46,"n":4,"s":"m"},{"x":29.71,"n":2.8,"s":"m"},{"x":30.03,"n":1.6,"s":"m"},{"x":30.34,"n":0.8,"s":"m"},{"x":30.8,"n":0.4,"s":"m"}
 ],
 "cdf": [
{"x":25.22,"f":0,"s":"n"},{"x":25.5,"f":0.001,"s":"n"},{"x":26.0,"f":0.004,"s":"n"},{"x":26.5,"f":0.012,"s":"n"},{"x":27.0,"f":0.026,"s":"n"},{"x":27.3,"f":0.042,"s":"n"},{"x":27.52,"f":0.065,"s":"n"},{"x":27.77,"f":0.096,"s":"n"},{"x":28.02,"f":0.14,"s":"n"},{"x":28.15,"f":0.17,"s":"n"},{"x":28.27,"f":0.21,"s":"n"},{"x":28.4,"f":0.255,"s":"n"},{"x":28.52,"f":0.305,"s":"n"},{"x":28.64,"f":0.37,"s":"n"},{"x":28.77,"f":0.436,"s":"n"},{"x":28.89,"f":0.497,"s":"n"},{"x":29.0,"f":0.56,"s":"n"},{"x":29.08,"f":0.602,"s":"n"},{"x":29.2,"f":0.67,"s":"n"},{"x":29.37,"f":0.759,"s":"n"},{"x":29.5,"f":0.81,"s":"n"},{"x":29.65,"f":0.855,"s":"n"},{"x":29.8,"f":0.9,"s":"n"},{"x":29.96,"f":0.93,"s":"n"},{"x":30.1,"f":0.952,"s":"n"},{"x":30.28,"f":0.969,"s":"n"},{"x":30.45,"f":0.985,"s":"n"},{"x":30.59,"f":0.993,"s":"n"},{"x":30.8,"f":0.998,"s":"n"},{"x":30.97,"f":1.0,"s":"n"},{"x":31.66,"f":1.0,"s":"n"},
{"x":25.75,"f":0,"s":"m"},{"x":25.85,"f":0.008,"s":"m"},{"x":26.0,"f":0.012,"s":"m"},{"x":26.3,"f":0.015,"s":"m"},{"x":26.45,"f":0.019,"s":"m"},{"x":26.54,"f":0.03,"s":"m"},{"x":26.62,"f":0.05,"s":"m"},{"x":26.7,"f":0.065,"s":"m"},{"x":26.82,"f":0.079,"s":"m"},{"x":26.98,"f":0.079,"s":"m"},{"x":27.07,"f":0.113,"s":"m"},{"x":27.17,"f":0.128,"s":"m"},{"x":27.26,"f":0.14,"s":"m"},{"x":27.38,"f":0.152,"s":"m"},{"x":27.45,"f":0.166,"s":"m"},{"x":27.58,"f":0.2,"s":"m"},{"x":27.65,"f":0.26,"s":"m"},{"x":27.7,"f":0.305,"s":"m"},{"x":27.8,"f":0.358,"s":"m"},{"x":27.85,"f":0.41,"s":"m"},{"x":27.89,"f":0.445,"s":"m"},{"x":27.99,"f":0.489,"s":"m"},{"x":28.08,"f":0.522,"s":"m"},{"x":28.14,"f":0.56,"s":"m"},{"x":28.2,"f":0.593,"s":"m"},{"x":28.26,"f":0.654,"s":"m"},{"x":28.33,"f":0.689,"s":"m"},{"x":28.39,"f":0.715,"s":"m"},{"x":28.45,"f":0.75,"s":"m"},{"x":28.52,"f":0.782,"s":"m"},{"x":28.6,"f":0.82,"s":"m"},{"x":28.68,"f":0.846,"s":"m"},{"x":28.77,"f":0.872,"s":"m"},{"x":28.83,"f":0.89,"s":"m"},{"x":28.92,"f":0.91,"s":"m"},{"x":29.02,"f":0.934,"s":"m"},{"x":29.14,"f":0.951,"s":"m"},{"x":29.39,"f":0.96,"s":"m"},{"x":29.58,"f":0.977,"s":"m"},{"x":29.7,"f":0.985,"s":"m"},{"x":29.83,"f":0.995,"s":"m"},{"x":30.0,"f":0.998,"s":"m"},{"x":30.15,"f":1.0,"s":"m"}
 ],
 "grid": [{"g":26},{"g":27},{"g":28},{"g":29},{"g":30},{"g":31}],
 "one": [{}]
},
"hconcat": [
 {
  "width": 441, "height": 420,
  "layer": [
   {
    "layer": [
     {
      "data": {"name": "pts"},
      "mark": {"type": "circle", "size": 38, "opacity": 1},
      "encoding": {
       "x": {"field": "p", "type": "quantitative", "scale": {"domain": [-3, 2], "nice": false, "zero": false},
             "axis": {"orient": "bottom", "values": [-3, -2, -1, 0, 1, 2], "tickSize": -5, "labelPadding": 17, "labelExpr": "'' + datum.value", "title": "log(P) [s]", "titlePadding": 6}},
       "y": {"field": "l", "type": "quantitative", "scale": {"domain": [25, 33], "range": [420, 26], "nice": false, "zero": false},
             "axis": {"orient": "left", "values": [25, 26, 27, 28, 29, 30, 31, 32, 33], "tickSize": -5, "labelPadding": 11, "labelExpr": "'' + datum.value", "title": "log(L) [erg s⁻¹]", "titlePadding": 9}},
       "color": {"field": "e", "type": "quantitative", "legend": null,
                 "scale": {"type": "linear", "domain": [28.49, 32.1, 32.101, 35.89, 35.891, 38.6], "range": ["#000000", "#a0a0a0", "#00ff00", "#ffff00", "#ff0000", "#6e0000"], "interpolate": "rgb"}}
      }
     },
     {
      "data": {"name": "one"},
      "mark": {"type": "rule", "color": "#000000", "strokeWidth": 1, "strokeDash": [10, 6]},
      "encoding": {"x": {"datum": -1.699}, "y": {"datum": 25}, "y2": {"datum": 33}}
     },
     {
      "data": {"name": "one"},
      "mark": {"type": "circle", "size": 40, "opacity": 1, "color": "#9b9b9b"},
      "encoding": {"x": {"datum": 0.288}, "y": {"datum": 32.08}}
     },
     {
      "data": {"name": "one"},
      "mark": {"type": "text", "text": "radio pulsar", "align": "left", "baseline": "alphabetic", "font": "Liberation Serif", "fontSize": 21, "color": "#000000"},
      "encoding": {"x": {"datum": 0.571}, "y": {"datum": 31.958}}
     },
     {
      "data": {"name": "one"},
      "mark": {"type": "rule", "color": "#000000", "strokeWidth": 1, "strokeDash": [9, 5]},
      "encoding": {"x": {"datum": 0.042}, "x2": {"datum": 0.515}, "y": {"datum": 31.558}}
     },
     {
      "data": {"name": "one"},
      "mark": {"type": "text", "text": "P", "align": "left", "baseline": "alphabetic", "font": "Liberation Serif", "fontSize": 21, "fontStyle": "italic", "color": "#000000"},
      "encoding": {"x": {"datum": 0.571}, "y": {"datum": 31.471}}
     },
     {
      "data": {"name": "one"},
      "mark": {"type": "text", "text": "= 20 ms", "align": "left", "baseline": "alphabetic", "font": "Liberation Serif", "fontSize": 21, "color": "#000000"},
      "encoding": {"x": {"datum": 0.776}, "y": {"datum": 31.471}}
     }
    ]
   },
   {
    "data": {"name": "one"},
    "mark": {"type": "rect", "fillOpacity": 0, "stroke": "#262626", "strokeWidth": 1},
    "encoding": {
     "x": {"datum": -3, "type": "quantitative", "scale": {"domain": [-3, 2], "nice": false, "zero": false},
           "axis": {"orient": "top", "offset": -26, "values": [-3, -2, -1, 0, 1, 2], "tickSize": -5, "labels": false, "title": null}},
     "x2": {"datum": 2},
     "y": {"datum": 25, "type": "quantitative", "scale": {"domain": [25, 33], "range": [420, 26], "nice": false, "zero": false},
           "axis": {"orient": "right", "values": [25, 26, 27, 28, 29, 30, 31, 32, 33], "tickSize": -5, "labels": false, "title": null}},
     "y2": {"datum": 33}
    }
   },
   {
    "data": {"name": "one"},
    "mark": {"type": "rect", "stroke": "#262626", "strokeWidth": 1,
             "fill": {"gradient": "linear", "x1": 0, "y1": 0, "x2": 1, "y2": 0,
                      "stops": [{"offset": 0, "color": "#000000"}, {"offset": 0.357, "color": "#a0a0a0"}, {"offset": 0.3571, "color": "#00ff00"}, {"offset": 0.7323, "color": "#ffff00"}, {"offset": 0.7324, "color": "#ff0000"}, {"offset": 1, "color": "#6e0000"}]}},
    "encoding": {
     "x": {"datum": 28.49, "type": "quantitative", "scale": {"domain": [28.49, 38.6], "nice": false, "zero": false},
           "axis": {"orient": "top", "values": [30, 32, 34, 36, 38], "tickSize": -4, "labelPadding": 9, "labelExpr": "'' + datum.value", "title": "log(Ė) [erg s⁻¹]", "titlePadding": 1, "titleX": 228}},
     "x2": {"datum": 38.6},
     "y": {"datum": 0, "type": "quantitative", "scale": {"domain": [0, 1], "range": [24, 0], "nice": false, "zero": false}, "axis": null},
     "y2": {"datum": 1}
    }
   }
  ],
  "resolve": {"scale": {"x": "independent", "y": "independent", "color": "independent"}}
 },
 {
  "width": 371, "height": 421,
  "layer": [
   {
    "layer": [
     {
      "data": {"name": "hn"},
      "mark": {"type": "rect", "fill": "#f0f0f0", "stroke": "#262626", "strokeWidth": 0.8},
      "encoding": {
       "x": {"field": "a", "type": "quantitative", "scale": {"domain": [25, 32], "nice": false, "zero": false},
             "axis": {"orient": "top", "offset": -3, "values": [25, 26, 27, 28, 29, 30, 31, 32], "tickSize": -5, "labelPadding": 12, "labelExpr": "'' + datum.value", "title": null}},
       "x2": {"field": "b"},
       "y": {"field": "n", "type": "quantitative", "scale": {"domain": [0, 250], "range": [214, 3], "nice": false, "zero": false},
             "axis": {"orient": "right", "values": [0, 50, 100, 150, 200, 250], "tickSize": -5, "labelPadding": 12, "labelExpr": "'' + datum.value", "title": "Number", "titleAngle": 270, "titleBaseline": "top", "titlePadding": 4}},
       "y2": {"datum": 0}
      }
     },
     {
      "data": {"name": "hm"},
      "mark": {"type": "rect", "fill": "#00ff00", "stroke": "#262626", "strokeWidth": 0.8},
      "encoding": {"x": {"field": "a", "type": "quantitative"}, "x2": {"field": "b"}, "y": {"field": "n", "type": "quantitative"}, "y2": {"datum": 0}}
     },
     {
      "data": {"name": "fit"},
      "transform": [{"filter": "datum.s == 'n'"}],
      "mark": {"type": "line", "color": "#000000", "strokeWidth": 2.6},
      "encoding": {"x": {"field": "x", "type": "quantitative"}, "y": {"field": "n", "type": "quantitative"}}
     },
     {
      "data": {"name": "fit"},
      "transform": [{"filter": "datum.s == 'm'"}],
      "mark": {"type": "line", "color": "#ff0000", "strokeWidth": 2.6},
      "encoding": {"x": {"field": "x", "type": "quantitative"}, "y": {"field": "n", "type": "quantitative"}}
     },
     {
      "data": {"name": "one"},
      "mark": {"type": "rect", "fill": "#f0f0f0", "stroke": "#262626", "strokeWidth": 0.8},
      "encoding": {"x": {"datum": 25.107}, "x2": {"datum": 25.906}, "y": {"datum": 242.9}, "y2": {"datum": 222.7}}
     },
     {
      "data": {"name": "one"},
      "mark": {"type": "rule", "color": "#000000", "strokeWidth": 2.6},
      "encoding": {"x": {"datum": 25.107}, "x2": {"datum": 25.906}, "y": {"datum": 207.3}}
     },
     {
      "data": {"name": "one"},
      "mark": {"type": "rect", "fill": "#00ff00", "stroke": "#262626", "strokeWidth": 0.8},
      "encoding": {"x": {"datum": 25.107}, "x2": {"datum": 25.906}, "y": {"datum": 189.6}, "y2": {"datum": 169.1}}
     },
     {
      "data": {"name": "one"},
      "mark": {"type": "rule", "color": "#ff0000", "strokeWidth": 2.6},
      "encoding": {"x": {"datum": 25.107}, "x2": {"datum": 25.906}, "y": {"datum": 153.4}}
     },
     {
      "data": {"name": "one"},
      "mark": {"type": "text", "text": "normal pulsar", "align": "left", "baseline": "alphabetic", "font": "Liberation Serif", "fontSize": 20, "color": "#000000"},
      "encoding": {"x": {"datum": 25.981}, "y": {"datum": 228.3}}
     },
     {
      "data": {"name": "one"},
      "mark": {"type": "text", "text": "fit line", "align": "left", "baseline": "alphabetic", "font": "Liberation Serif", "fontSize": 20, "color": "#000000"},
      "encoding": {"x": {"datum": 25.981}, "y": {"datum": 200.6}}
     },
     {
      "data": {"name": "one"},
      "mark": {"type": "text", "text": "MSP", "align": "left", "baseline": "alphabetic", "font": "Liberation Serif", "fontSize": 20, "color": "#000000"},
      "encoding": {"x": {"datum": 25.981}, "y": {"datum": 173.8}}
     },
     {
      "data": {"name": "one"},
      "mark": {"type": "text", "text": "fit line", "align": "left", "baseline": "alphabetic", "font": "Liberation Serif", "fontSize": 20, "color": "#000000"},
      "encoding": {"x": {"datum": 25.981}, "y": {"datum": 146.1}}
     }
    ]
   },
   {
    "data": {"name": "one"},
    "mark": {"type": "rect", "fillOpacity": 0, "stroke": "#262626", "strokeWidth": 1},
    "encoding": {
     "x": {"datum": 25, "type": "quantitative", "scale": {"domain": [25, 32], "nice": false, "zero": false},
           "axis": {"orient": "bottom", "offset": -207, "values": [25, 26, 27, 28, 29, 30, 31, 32], "tickSize": -5, "labels": false, "title": null}},
     "x2": {"datum": 32},
     "y": {"datum": 0, "type": "quantitative", "scale": {"domain": [0, 250], "range": [214, 3], "nice": false, "zero": false},
           "axis": {"orient": "left", "values": [0, 50, 100, 150, 200, 250], "tickSize": -5, "labels": false, "title": null}},
     "y2": {"datum": 250}
    }
   },
   {
    "layer": [
     {
      "data": {"name": "grid"},
      "mark": {"type": "rule", "color": "#dfdfdf", "strokeWidth": 1},
      "encoding": {
       "x": {"field": "g", "type": "quantitative", "scale": {"domain": [25, 32], "nice": false, "zero": false},
             "axis": {"orient": "bottom", "values": [25, 26, 27, 28, 29, 30, 31, 32], "tickSize": -5, "labelPadding": 16, "labelExpr": "'' + datum.value", "title": "log(L) [erg s⁻¹]", "titlePadding": 4}},
       "y": {"datum": 0, "type": "quantitative", "scale": {"domain": [0, 1], "range": [421, 230], "nice": false, "zero": false},
             "axis": {"orient": "right", "values": [0, 0.5, 1], "tickSize": -5, "labelPadding": 12, "labelExpr": "'' + datum.value", "title": "F(x)", "titleAngle": 270, "titleBaseline": "top", "titlePadding": 4}},
       "y2": {"datum": 1}
      }
     },
     {
      "data": {"name": "one"},
      "mark": {"type": "rule", "color": "#dfdfdf", "strokeWidth": 1},
      "encoding": {"x": {"datum": 25}, "x2": {"datum": 32}, "y": {"datum": 0.5}}
     },
     {
      "data": {"name": "cdf"},
      "transform": [{"filter": "datum.s == 'n'"}],
      "mark": {"type": "line", "color": "#000000", "strokeWidth": 2.6},
      "encoding": {"x": {"field": "x", "type": "quantitative"}, "y": {"field": "f", "type": "quantitative"}}
     },
     {
      "data": {"name": "cdf"},
      "transform": [{"filter": "datum.s == 'm'"}],
      "mark": {"type": "line", "color": "#ff0000", "strokeWidth": 2.6},
      "encoding": {"x": {"field": "x", "type": "quantitative"}, "y": {"field": "f", "type": "quantitative"}}
     },
     {
      "data": {"name": "one"},
      "mark": {"type": "text", "text": "Empirical CDF", "align": "center", "baseline": "alphabetic", "font": "Liberation Serif", "fontSize": 22, "color": "#000000"},
      "encoding": {"x": {"datum": 30.543}, "y": {"datum": 0.3927}}
     },
     {
      "data": {"name": "one"},
      "mark": {"type": "rule", "color": "#000000", "strokeWidth": 2.6},
      "encoding": {"x": {"datum": 28.61}, "x2": {"datum": 29.364}, "y": {"datum": 0.2094}}
     },
     {
      "data": {"name": "one"},
      "mark": {"type": "rule", "color": "#ff0000", "strokeWidth": 2.6},
      "encoding": {"x": {"datum": 28.61}, "x2": {"datum": 29.364}, "y": {"datum": 0.0873}}
     },
     {
      "data": {"name": "one"},
      "mark": {"type": "text", "text": "mormal pulsar", "align": "left", "baseline": "alphabetic", "font": "Liberation Serif", "fontSize": 18, "color": "#000000"},
      "encoding": {"x": {"datum": 29.428}, "y": {"datum": 0.187}}
     },
     {
      "data": {"name": "one"},
      "mark": {"type": "text", "text": "MSP", "align": "left", "baseline": "alphabetic", "font": "Liberation Serif", "fontSize": 18, "color": "#000000"},
      "encoding": {"x": {"datum": 29.428}, "y": {"datum": 0.0646}}
     }
    ]
   },
   {
    "data": {"name": "one"},
    "mark": {"type": "rect", "fillOpacity": 0, "stroke": "#262626", "strokeWidth": 1},
    "encoding": {
     "x": {"datum": 25, "type": "quantitative", "scale": {"domain": [25, 32], "nice": false, "zero": false},
           "axis": {"orient": "top", "offset": -230, "values": [25, 26, 27, 28, 29, 30, 31, 32], "tickSize": -5, "labels": false, "title": null}},
     "x2": {"datum": 32},
     "y": {"datum": 0, "type": "quantitative", "scale": {"domain": [0, 1], "range": [421, 230], "nice": false, "zero": false},
           "axis": {"orient": "left", "values": [0, 0.5, 1], "tickSize": -5, "labels": false, "title": null}},
     "y2": {"datum": 1}
    }
   }
  ],
  "resolve": {"scale": {"x": "independent", "y": "independent"}}
 }
]
}
